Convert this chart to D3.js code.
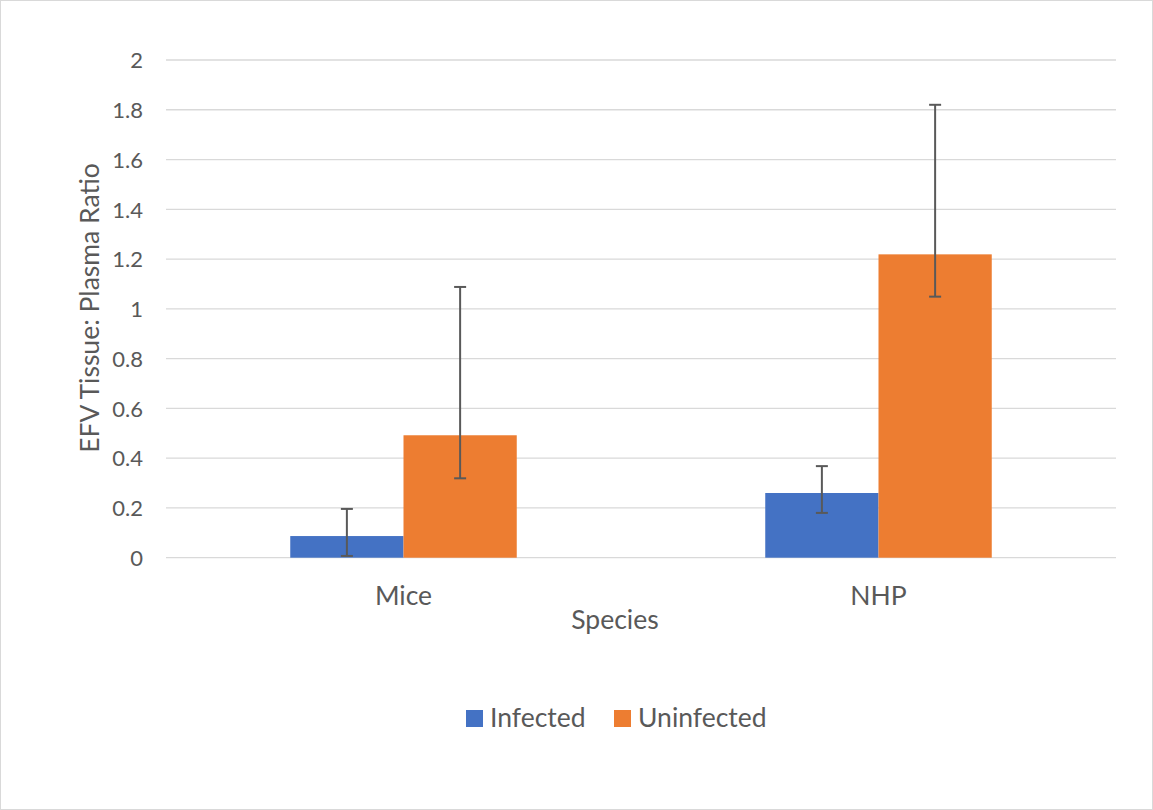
<!DOCTYPE html>
<html><head><meta charset="utf-8">
<script src="https://cdn.jsdelivr.net/npm/d3@7"></script>
<style>body{margin:0;background:#fff}svg{display:block}text{font-family:Lato,"Open Sans",sans-serif;fill:#595959}</style>
</head><body><svg id="c" width="1153" height="810"></svg>
<script>
const categories = ["Mice", "NHP"];
const seriesNames = ["Infected", "Uninfected"];
const seriesColors = ["#4472C4", "#ED7D31"];
const infectedValues = [0.087, 0.26];
const uninfectedValues = [0.492, 1.219];
const infectedErrUp = [0.109, 0.108];
const infectedErrDown = [0.080, 0.080];
const uninfectedErrUp = [0.596, 0.601];
const uninfectedErrDown = [0.173, 0.170];
const yTicks = [0, 0.2, 0.4, 0.6, 0.8, 1, 1.2, 1.4, 1.6, 1.8, 2];

(function(){
const svg = d3.select("#c");
svg.append("rect").attr("x",0.5).attr("y",0.5).attr("width",1152).attr("height",809)
  .attr("fill","#fff").attr("stroke","#d9d9d9");

const pLeft = 166, pRight = 1116, pTop = 60, pBottom = 557.7;
const y = d3.scaleLinear().domain([0, 2]).range([pBottom, pTop]);
const x0 = d3.scaleBand().domain(categories).range([pLeft, pRight]).paddingInner(0).paddingOuter(0);
const groupW = 226.5;
const x1 = d3.scaleBand().domain(seriesNames).range([0, groupW]);

svg.append("g").selectAll("line").data(yTicks).join("line")
  .attr("x1", pLeft).attr("x2", pRight)
  .attr("y1", d => y(d)).attr("y2", d => y(d))
  .attr("stroke", "#d9d9d9").attr("stroke-width", 1.3);

const yAxis = d3.axisLeft(y).tickValues(yTicks).tickSize(0).tickPadding(0).tickFormat(d => String(d));
const yg = svg.append("g").attr("transform", `translate(143,0)`).call(yAxis);
yg.select(".domain").remove();
yg.selectAll("text").style("font-size","22px").style("font-family","Lato").attr("fill","#595959").attr("dy","0.35em");

const data = categories.map((c, i) => ({
  cat: c,
  vals: [
    {s: seriesNames[0], v: infectedValues[i], up: infectedErrUp[i], down: infectedErrDown[i]},
    {s: seriesNames[1], v: uninfectedValues[i], up: uninfectedErrUp[i], down: uninfectedErrDown[i]}
  ]
}));

const g = svg.append("g").selectAll("g").data(data).join("g")
  .attr("transform", d => `translate(${x0(d.cat) + x0.bandwidth()/2 - groupW/2},0)`);
g.selectAll("rect").data(d => d.vals).join("rect")
  .attr("x", d => x1(d.s)).attr("width", x1.bandwidth())
  .attr("y", d => y(d.v)).attr("height", d => y(0) - y(d.v))
  .attr("fill", (d, i) => seriesColors[i]);

const eb = g.selectAll("g.err").data(d => d.vals).join("g").attr("class","err");
const ec = "#595959";
eb.append("line")
  .attr("x1", d => x1(d.s) + x1.bandwidth()/2).attr("x2", d => x1(d.s) + x1.bandwidth()/2)
  .attr("y1", d => y(d.v + d.up)).attr("y2", d => y(d.v - d.down))
  .attr("stroke", ec).attr("stroke-width", 2);
eb.append("line")
  .attr("x1", d => x1(d.s) + x1.bandwidth()/2 - 6).attr("x2", d => x1(d.s) + x1.bandwidth()/2 + 6)
  .attr("y1", d => y(d.v + d.up)).attr("y2", d => y(d.v + d.up))
  .attr("stroke", ec).attr("stroke-width", 2);
eb.append("line")
  .attr("x1", d => x1(d.s) + x1.bandwidth()/2 - 6).attr("x2", d => x1(d.s) + x1.bandwidth()/2 + 6)
  .attr("y1", d => y(d.v - d.down)).attr("y2", d => y(d.v - d.down))
  .attr("stroke", ec).attr("stroke-width", 2);

const xAxis = d3.axisBottom(x0).tickSize(0).tickPadding(0);
const xg = svg.append("g").attr("transform", `translate(0,${pBottom})`).call(xAxis);
xg.select(".domain").remove();
xg.selectAll("text").style("font-size","26.5px").style("font-family","Lato").attr("fill","#595959").attr("y", 47).attr("dy", 0);

svg.append("text").attr("x", 615).attr("y", 629).attr("text-anchor","middle")
  .style("font-size","26.5px").text("Species");
svg.append("text").attr("transform","translate(99,308) rotate(-90)").attr("text-anchor","middle")
  .style("font-size","26.5px").text("EFV Tissue: Plasma Ratio");

const leg = svg.append("g");
const legX = [466, 614];
seriesNames.forEach((s, i) => {
  leg.append("rect").attr("x", legX[i]).attr("y", 710).attr("width", 17).attr("height", 17).attr("fill", seriesColors[i]);
  leg.append("text").attr("x", legX[i] + 24).attr("y", 727).style("font-size","26.5px").text(s);
});
})();
</script></body></html>
